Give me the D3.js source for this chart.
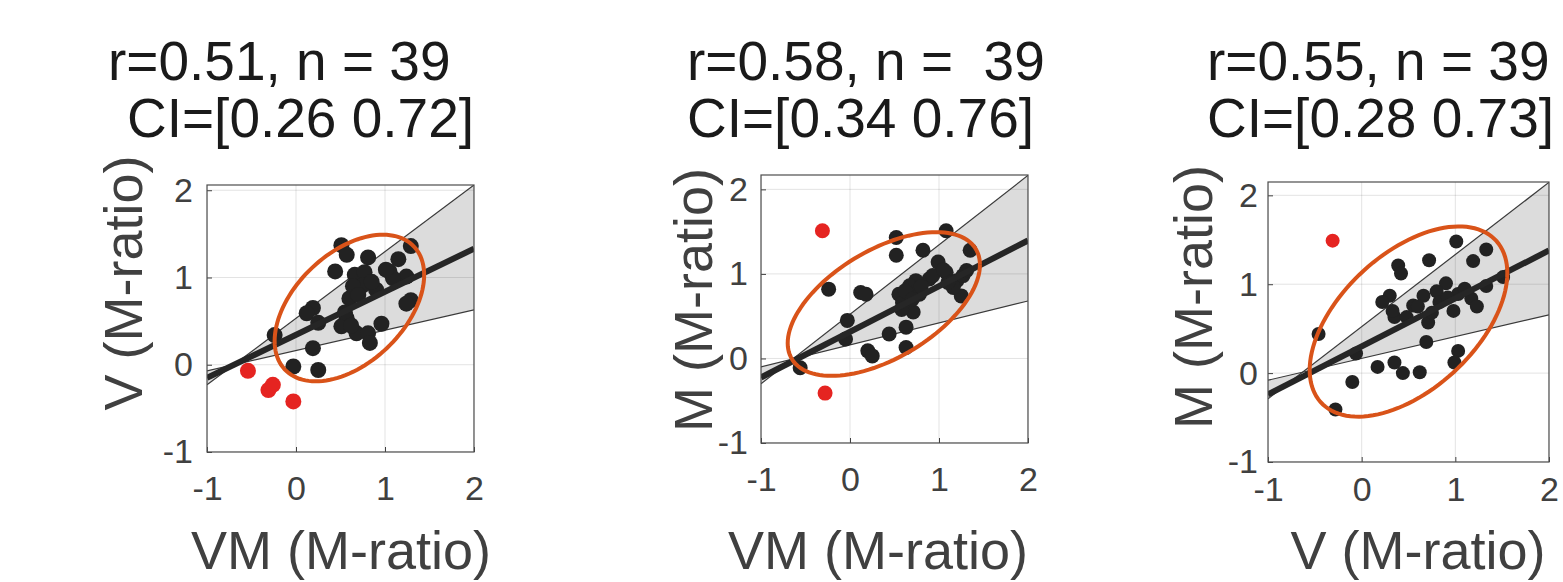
<!DOCTYPE html>
<html>
<head>
<meta charset="utf-8">
<script src="https://cdn.jsdelivr.net/npm/d3@7"></script>
<style>
  body { margin: 0; background: #fff; }
  text { font-family: "Liberation Sans", Arial, Helvetica, sans-serif; }
</style>
</head>
<body>
<div id="chart"></div>
<script>
// ---------- data ----------
const xTicks = [-1, 0, 1, 2];
const yTicks = [-1, 0, 1, 2];
const yMax = [2.06, 2.17, 2.15];

const titleLine1 = ["r=0.51, n = 39", "r=0.58, n =  39", "r=0.55, n = 39"];
const titleLine2 = ["CI=[0.26 0.72]", "CI=[0.34 0.76]", "CI=[0.28 0.73]"];
const xLabels = ["VM (M-ratio)", "VM (M-ratio)", "V (M-ratio)"];
const yLabels = ["V (M-ratio)", "M (M-ratio)", "M (M-ratio)"];

const points1 = [
  [0.51, 1.37], [0.57, 1.26], [0.81, 1.23], [0.44, 1.07], [0.66, 1.03], [0.77, 1.06],
  [1.29, 1.36], [1.15, 1.21], [1.05, 1.07], [1.24, 1.01], [0.90, 0.86], [0.75, 0.91],
  [0.60, 0.76], [0.19, 0.65], [0.12, 0.59], [0.25, 0.48], [0.57, 0.53], [0.51, 0.44],
  [0.68, 0.36], [0.81, 0.36], [0.83, 0.25], [0.96, 0.47], [1.29, 0.74], [1.24, 0.70],
  [-0.24, 0.34], [0.19, 0.19], [-0.03, -0.02], [0.25, -0.06], [0.64, 0.90], [1.09, 0.99],
  [1.01, 1.09], [0.70, 0.80], [0.85, 0.95], [0.55, 0.60], [0.62, 0.45]
];
const outliers1 = [[-0.54, -0.07], [-0.31, -0.29], [-0.26, -0.23], [-0.03, -0.42]];

const points2 = [
  [0.52, 1.43], [0.52, 1.22], [0.82, 1.28], [1.08, 1.51], [1.35, 1.28], [-0.24, 0.82],
  [0.12, 0.78], [0.18, 0.76], [0.99, 1.14], [1.08, 1.02], [0.89, 0.94], [0.74, 0.92],
  [0.67, 0.86], [0.55, 0.76], [0.59, 0.66], [0.71, 0.55], [0.78, 0.76], [1.20, 0.92],
  [1.27, 0.98], [1.31, 1.04], [1.25, 0.74], [1.16, 0.84], [-0.03, 0.45], [-0.05, 0.23],
  [0.44, 0.29], [0.63, 0.37], [0.63, 0.13], [0.20, 0.09], [0.25, 0.03], [-0.56, -0.11],
  [0.93, 0.98], [0.62, 0.80], [0.80, 0.85], [1.10, 0.90], [0.58, 0.58], [1.05, 1.05],
  [0.70, 0.70]
];
const outliers2 = [[-0.31, 1.51], [-0.28, -0.41]];

const points3 = [
  [1.01, 1.48], [1.33, 1.39], [1.19, 1.26], [0.72, 1.27], [0.39, 1.21], [0.42, 1.12],
  [0.90, 1.01], [0.80, 0.92], [0.66, 0.87], [0.30, 0.87], [0.22, 0.80], [0.55, 0.76],
  [1.03, 0.89], [1.17, 0.84], [1.23, 0.75], [1.33, 0.98], [1.51, 1.08], [0.98, 0.70],
  [0.35, 0.63], [0.48, 0.63], [0.71, 0.57], [0.69, 0.35], [-0.46, 0.44], [-0.06, 0.22],
  [0.17, 0.07], [0.35, 0.12], [0.44, 0.00], [0.62, 0.01], [1.03, 0.25], [0.99, 0.12],
  [-0.10, -0.10], [-0.28, -0.41], [0.83, 0.80], [0.33, 0.70], [0.60, 0.75], [0.92, 0.85],
  [0.75, 0.68], [1.10, 0.95]
];
const outliers3 = [[-0.31, 1.49]];

// y of each line at x = -1 and x = 2
const fitLine = [[-0.15, 1.33], [-0.225, 1.395], [-0.24, 1.38]];
const ciUpper = [[-0.23, 2.06], [-0.30, 2.166], [-0.29, 2.146]];
const ciLower = [[-0.07, 0.63], [-0.10, 0.68], [-0.08, 0.655]];

// ellipse: centre x, centre y, sd x, sd y, correlation
const ellipses = [
  [0.60, 0.65, 0.84, 0.84, 0.45],
  [0.38, 0.644, 1.08, 0.85, 0.545],
  [0.50, 0.58, 1.055, 1.07, 0.51]
];

// ---------- layout ----------
const frames = [
  { left: 207, top: 185, w: 267, h: 267, padX: 24, padY: 14, titleX: [108, 127], xLabelX: 341, yLabelX: 142, yLabelY: 283, r: 8 },
  { left: 761, top: 175, w: 267, h: 268, padX: 24, padY: 13, titleX: [687, 687], xLabelX: 878, yLabelX: 712, yLabelY: 300, r: 7.5 },
  { left: 1268, top: 182, w: 281, h: 280, padX: 15, padY: 10, titleX: [1207, 1207], xLabelX: 1418, yLabelX: 1212, yLabelY: 297, r: 7 }
];
const allPoints = [points1, points2, points3];
const allOutliers = [outliers1, outliers2, outliers3];

const svg = d3.select("#chart").append("svg")
  .attr("width", 1563)
  .attr("height", 582);

frames.forEach((f, i) => {
  const x = d3.scaleLinear().domain([-1, 2]).range([f.left, f.left + f.w]);
  const y = d3.scaleLinear().domain([-1, yMax[i]]).range([f.top + f.h, f.top]);
  const g = svg.append("g");

  // clip to the axes box
  svg.append("clipPath").attr("id", "clip" + i)
    .append("rect")
    .attr("x", f.left).attr("y", f.top)
    .attr("width", f.w).attr("height", f.h);
  const plot = g.append("g").attr("clip-path", `url(#clip${i})`);

  // confidence band
  const band = [[-1, ciUpper[i][0]], [2, ciUpper[i][1]], [2, ciLower[i][1]], [-1, ciLower[i][0]]];
  plot.append("path")
    .attr("d", d3.line().x(d => x(d[0])).y(d => y(d[1]))(band) + "Z")
    .attr("fill", "#dcdcdc")
    .attr("stroke", "none");

  // grid
  plot.selectAll(".gx").data(xTicks).enter().append("line")
    .attr("x1", d => x(d)).attr("x2", d => x(d))
    .attr("y1", f.top).attr("y2", f.top + f.h)
    .attr("stroke", "#262626").attr("stroke-opacity", 0.13);
  plot.selectAll(".gy").data(yTicks).enter().append("line")
    .attr("x1", f.left).attr("x2", f.left + f.w)
    .attr("y1", d => y(d)).attr("y2", d => y(d))
    .attr("stroke", "#262626").attr("stroke-opacity", 0.13);

  // band edges
  [ciUpper[i], ciLower[i]].forEach(l => {
    plot.append("line")
      .attr("x1", x(-1)).attr("y1", y(l[0]))
      .attr("x2", x(2)).attr("y2", y(l[1]))
      .attr("stroke", "#3a3a3a").attr("stroke-width", 1.2);
  });

  // points
  plot.selectAll(".pt").data(allPoints[i]).enter().append("circle")
    .attr("cx", d => x(d[0])).attr("cy", d => y(d[1]))
    .attr("r", f.r).attr("fill", "#222222");
  plot.selectAll(".out").data(allOutliers[i]).enter().append("circle")
    .attr("cx", d => x(d[0])).attr("cy", d => y(d[1]))
    .attr("r", f.r).attr("fill", "#e52421");

  // regression line
  plot.append("line")
    .attr("x1", x(-1)).attr("y1", y(fitLine[i][0]))
    .attr("x2", x(2)).attr("y2", y(fitLine[i][1]))
    .attr("stroke", "#262626").attr("stroke-width", 6);

  // ellipse
  const [cx, cy, sx, sy, rho] = ellipses[i];
  const ring = d3.range(0, 361, 3).map(a => {
    const t = a * Math.PI / 180;
    return [cx + sx * Math.cos(t), cy + sy * (rho * Math.cos(t) + Math.sqrt(1 - rho * rho) * Math.sin(t))];
  });
  g.append("path")
    .attr("d", d3.line().x(d => x(d[0])).y(d => y(d[1]))(ring))
    .attr("fill", "none")
    .attr("stroke", "#d95319")
    .attr("stroke-width", 4);

  // axes
  const xAxis = g.append("g")
    .attr("transform", `translate(0,${f.top + f.h})`)
    .call(d3.axisBottom(x).tickValues(xTicks).tickSize(-5).tickPadding(f.padX).tickFormat(d3.format("d")));
  const yAxis = g.append("g")
    .attr("transform", `translate(${f.left},0)`)
    .call(d3.axisLeft(y).tickValues(yTicks).tickSize(-5).tickPadding(f.padY).tickFormat(d3.format("d")));
  [xAxis, yAxis].forEach(a => {
    a.select(".domain").remove();
    a.selectAll("line").attr("stroke", "#404040");
    a.selectAll("text")
      .attr("fill", "#404040")
      .style("font-size", "34px")
      .text(d => d < 0 ? "-" + Math.abs(d) : d);
  });

  // box
  g.append("rect")
    .attr("x", f.left).attr("y", f.top)
    .attr("width", f.w).attr("height", f.h)
    .attr("fill", "none")
    .attr("stroke", "#4d4d4d")
    .attr("stroke-width", 1.2);

  // axis labels
  g.append("text")
    .attr("x", f.xLabelX).attr("y", 569)
    .attr("text-anchor", "middle")
    .attr("fill", "#404040")
    .style("font-size", "54px")
    .text(xLabels[i]);
  g.append("text")
    .attr("transform", `translate(${f.yLabelX},${f.yLabelY}) rotate(-90)`)
    .attr("text-anchor", "middle")
    .attr("fill", "#404040")
    .style("font-size", "54px")
    .text(yLabels[i]);

  // title
  [titleLine1[i], titleLine2[i]].forEach((t, k) => {
    g.append("text")
      .attr("x", f.titleX[k])
      .attr("y", k === 0 ? 80 : 137)
      .attr("fill", "#1a1a1a")
      .style("font-size", "55px")
      .style("white-space", "pre")
      .text(t);
  });
});
</script>
</body>
</html>
